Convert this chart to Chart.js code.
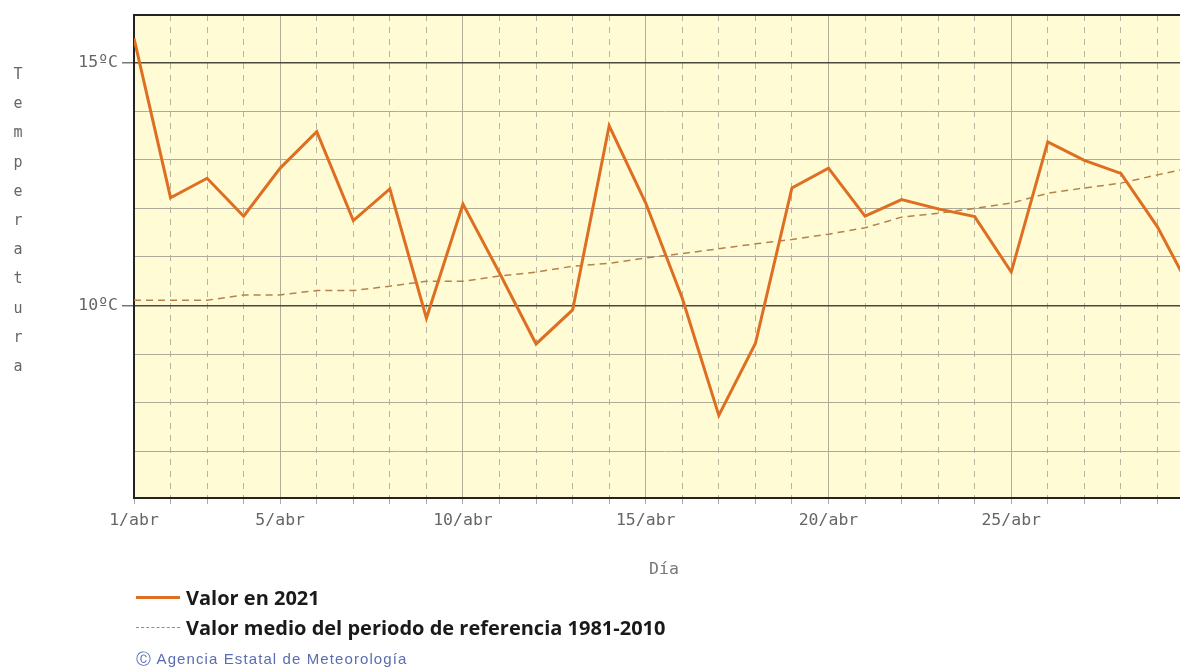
<!DOCTYPE html>
<html>
<head>
  <meta charset="UTF-8">
  <title>Temperatura media diaria - abril 2021</title>
  <script src="https://cdn.jsdelivr.net/npm/chart.js"></script>
  <style>
    html, body {
      margin: 0;
      padding: 0;
      background: #fff;
      overflow: hidden;
    }

    #wrap {
      position: relative;
      width: 1180px;
      height: 668px;
      overflow: hidden;
    }

    #tempChart {
      position: absolute;
      left: 0;
      top: 0;
    }

    #ytitle {
      position: absolute;
      left: 0;
      top: 60px;
      width: 36px;
      font-family: 'DejaVu Sans Mono', monospace;
      font-size: 15px;
      color: #666;
    }

    #ytitle span {
      display: block;
      height: 29.2px;
      line-height: 29.2px;
      text-align: center;
    }

    .legend-row {
      position: absolute;
      left: 136px;
      display: flex;
      align-items: center;
      font-family: 'Open Sans', sans-serif;
      font-weight: 700;
      font-size: 20px;
      color: #1a1a1a;
      height: 26px;
    }

    .swatch {
      width: 44px;
      margin-right: 6px;
    }

    #copy {
      position: absolute;
      left: 136px;
      top: 650px;
      font-family: 'Liberation Sans', sans-serif;
      font-size: 15px;
      letter-spacing: 1.1px;
      color: #5a6db3;
    }
  </style>
</head>
<body>
  <div id="wrap">
    <canvas id="tempChart" width="1201" height="668"></canvas>
    <div id="ytitle"></div>
    <div class="legend-row" style="top:584px">
      <div class="swatch" style="border-top:3px solid #de6f22"></div>
      <span>Valor en 2021</span>
    </div>
    <div class="legend-row" style="top:614px">
      <div class="swatch" style="border-top:1px dashed #a08a70"></div>
      <span>Valor medio del periodo de referencia 1981-2010</span>
    </div>
    <div id="copy">Ⓒ Agencia Estatal de Meteorología</div>
  </div>

  <script>
    // dias de abril
    const days = [1, 2, 3, 4, 5, 6, 7, 8, 9, 10, 11, 12, 13, 14, 15,
                  16, 17, 18, 19, 20, 21, 22, 23, 24, 25, 26, 27, 28, 29, 30];

    // temperatura media diaria (ºC)
    const valor2021 = [15.5, 12.22, 12.62, 11.84, 12.83, 13.58, 11.75, 12.4, 9.74, 12.09,
                       10.67, 9.21, 9.91, 13.7, 12.11, 10.15, 7.74, 9.22, 12.42, 12.83,
                       11.84, 12.18, 11.99, 11.83, 10.69, 13.37, 12.99, 12.72, 11.62, 10.2];

    const valorMedio = [10.11, 10.11, 10.11, 10.22, 10.22, 10.31, 10.31, 10.4, 10.5, 10.5,
                        10.61, 10.69, 10.81, 10.87, 10.98, 11.07, 11.17, 11.27, 11.36, 11.47,
                        11.6, 11.82, 11.9, 12.0, 12.11, 12.31, 12.42, 12.52, 12.69, 12.85];

    // el dia 30 queda fuera del recorte de la imagen
    const labeledDays = [1, 5, 10, 15, 20, 25];
    const xTickLabels = ['1/abr', '5/abr', '10/abr', '15/abr', '20/abr', '25/abr'];
    const yTickValues = [10, 15];
    const yTickLabels = ['10ºC', '15ºC'];

    const yTitle = 'Temperatura';
    const xTitle = 'Día';

    document.getElementById('ytitle').innerHTML =
      yTitle.split('').map(ch => `<span>${ch}</span>`).join('');

    const tickFont = { family: "'DejaVu Sans Mono', monospace", size: 16.5 };

    const plotBackground = {
      id: 'plotBackground',
      beforeDraw(chart) {
        const { ctx, chartArea } = chart;
        ctx.save();
        ctx.fillStyle = '#fffbd5';
        ctx.fillRect(chartArea.left, chartArea.top, chartArea.width, chartArea.height);
        ctx.restore();
      },
      afterDraw(chart) {
        // borde superior
        const { ctx, chartArea } = chart;
        ctx.save();
        ctx.strokeStyle = '#222';
        ctx.lineWidth = 2;
        ctx.beginPath();
        ctx.moveTo(chartArea.left - 1, chartArea.top);
        ctx.lineTo(chartArea.right, chartArea.top);
        ctx.stroke();
        ctx.restore();
      }
    };

    new Chart(document.getElementById('tempChart'), {
      type: 'line',
      data: {
        datasets: [{
          label: 'Valor en 2021',
          data: days.map((d, i) => ({ x: d, y: valor2021[i] })),
          borderColor: '#de6f22',
          borderWidth: 3,
          pointRadius: 0,
          tension: 0
        }, {
          label: 'Valor medio del periodo de referencia 1981-2010',
          data: days.map((d, i) => ({ x: d, y: valorMedio[i] })),
          borderColor: '#b5834a',
          borderWidth: 1.5,
          borderDash: [7, 5],
          pointRadius: 0,
          tension: 0
        }]
      },
      options: {
        responsive: false,
        animation: false,
        layout: { padding: { top: 15, left: 0, right: 0, bottom: 0 } },
        plugins: {
          legend: { display: false },
          tooltip: { enabled: false }
        },
        scales: {
          x: {
            type: 'linear',
            min: 1,
            max: 30,
            afterFit: scale => { scale.height = 170; },
            ticks: {
              stepSize: 1,
              autoSkip: false,
              maxRotation: 0,
              padding: 7,
              color: '#666',
              font: tickFont,
              callback: v => {
                const i = labeledDays.indexOf(v);
                return i >= 0 ? xTickLabels[i] : '';
              }
            },
            grid: {
              color: c => (c.tick && c.tick.value % 5 === 0) ? '#b3ad95' : '#b8b39c',
              lineWidth: 1,
              tickLength: 6,
              tickColor: '#aaa'
            },
            border: {
              color: '#222',
              width: 2,
              dash: c => (c.tick && c.tick.value % 5 !== 0) ? [6, 6] : []
            },
            title: {
              display: true,
              text: xTitle,
              color: '#777',
              font: { family: "'DejaVu Sans Mono', monospace", size: 16.5 },
              padding: { top: 0, bottom: 88 }
            }
          },
          y: {
            min: 6.04,
            max: 15.98,
            afterFit: scale => { scale.width = 134; },
            ticks: {
              stepSize: 1,
              padding: 4,
              color: '#666',
              font: tickFont,
              callback: v => {
                const i = yTickValues.indexOf(v);
                return i >= 0 ? yTickLabels[i] : '';
              }
            },
            grid: {
              color: c => (c.tick && c.tick.value % 5 === 0) ? '#4a4a40' : '#aeab9a',
              lineWidth: c => (c.tick && c.tick.value % 5 === 0) ? 1.5 : 1,
              tickLength: 12,
              tickColor: c => (c.tick && c.tick.value % 5 === 0) ? '#777' : 'rgba(0,0,0,0)'
            },
            border: {
              color: '#222',
              width: 2
            }
          }
        }
      },
      plugins: [plotBackground]
    });
  </script>
</body>
</html>
